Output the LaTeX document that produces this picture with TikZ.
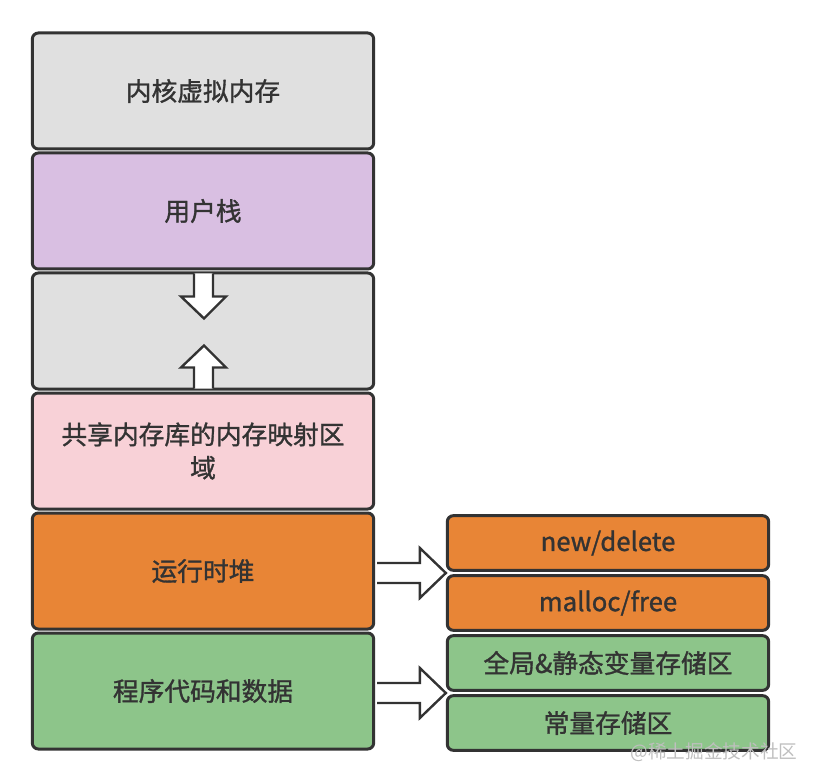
\documentclass[tikz,border=0pt]{standalone}
\usepackage{fontspec}
\setmainfont{Noto Sans CJK SC}
\newfontfamily\boxfont[FakeBold=1.2]{Noto Sans CJK SC}
\usepackage{tikz}
\usetikzlibrary{calc}
\definecolor{kgray}{HTML}{E0E0E0}
\definecolor{kpurple}{HTML}{D9BFE2}
\definecolor{kpink}{HTML}{F8D1D7}
\definecolor{korange}{HTML}{E88536}
\definecolor{kgreen}{HTML}{8DC58A}
\definecolor{kline}{HTML}{333333}
\tikzstyle{seg} = [rectangle, rounded corners=4.5pt, minimum width=256pt, minimum height=87pt,
align=center, draw=kline, line width=2.25pt, text=kline, font=\boxfont\fontsize{19.3}{25}\selectfont]
\tikzstyle{sub} = [rectangle, rounded corners=4.5pt, minimum width=241pt, minimum height=41pt,
align=center, draw=kline, line width=2.25pt, text=kline, font=\boxfont\fontsize{19.3}{22}\selectfont]
\tikzstyle{bigarrow} = [draw=kline, line width=1.8pt, fill=white, line join=miter]

\begin{document}
\begin{tikzpicture}[x=0.75pt, y=-0.75pt, node distance=90pt]
\useasboundingbox (0,0) rectangle (814,784);
\node (1)[seg, fill=kgray] at (203,91) {内核虚拟内存};
\node (2)[seg, fill=kpurple, below of=1]{用户栈};
\node (3)[seg, fill=kgray, below of=2]{};
\node (4)[seg, fill=kpink, below of=3]{共享内存库的内存映射区\\域};
\node (5)[seg, fill=korange, below of=4]{运行时堆};
\node (6)[seg, fill=kgreen, below of=5]{程序代码和数据};

\begin{scope}[node distance=45pt]
\node (7)[sub, fill=korange] at (608,543) {new/delete};
\node (8)[sub, fill=korange, below of=7]{malloc/free};
\node (9)[sub, fill=kgreen, below of=8]{全局\&静态变量存储区};
\node (10)[sub, fill=kgreen, below of=9]{常量存储区};
\end{scope}

% stack / mapping growth
\draw [bigarrow]($(3.north)+(-9,2)$) -- ++(0,23) -- ++(-13,0) -- ($(3.north)+(1,47)$)
  -- ($(3.north)+(23,25)$) -- ++(-13,0) -- ($(3.north)+(10,2)$);
\draw [bigarrow]($(3.south)+(-9,-2)$) -- ++(0,-21) -- ++(-13,0) -- ($(3.south)+(1,-45)$)
  -- ($(3.south)+(23,-23)$) -- ++(-13,0) -- ($(3.south)+(10,-2)$);

% heap and data
\coordinate (t1) at ($(7.south west)!0.5!(8.north west)$);
\coordinate (t2) at ($(9.south west)!0.5!(10.north west)$);
\draw [bigarrow]($(5.east |- t1)+(2,-10)$) -- ($(t1)+(-26,-10)$) -- ($(t1)+(-26,-25)$) -- (t1)
  -- ($(t1)+(-26,25)$) -- ($(t1)+(-26,10)$) -- ($(5.east |- t1)+(2,10)$);
\draw [bigarrow]($(6.east |- t2)+(2,-10)$) -- ($(t2)+(-26,-10)$) -- ($(t2)+(-26,-25)$) -- (t2)
  -- ($(t2)+(-26,25)$) -- ($(t2)+(-26,10)$) -- ($(6.east |- t2)+(2,10)$);

\node (wm)[text=black!25, font=\fontsize{14}{16}\selectfont] at (714,752) {@稀土掘金技术社区};
\end{tikzpicture}
\end{document}
